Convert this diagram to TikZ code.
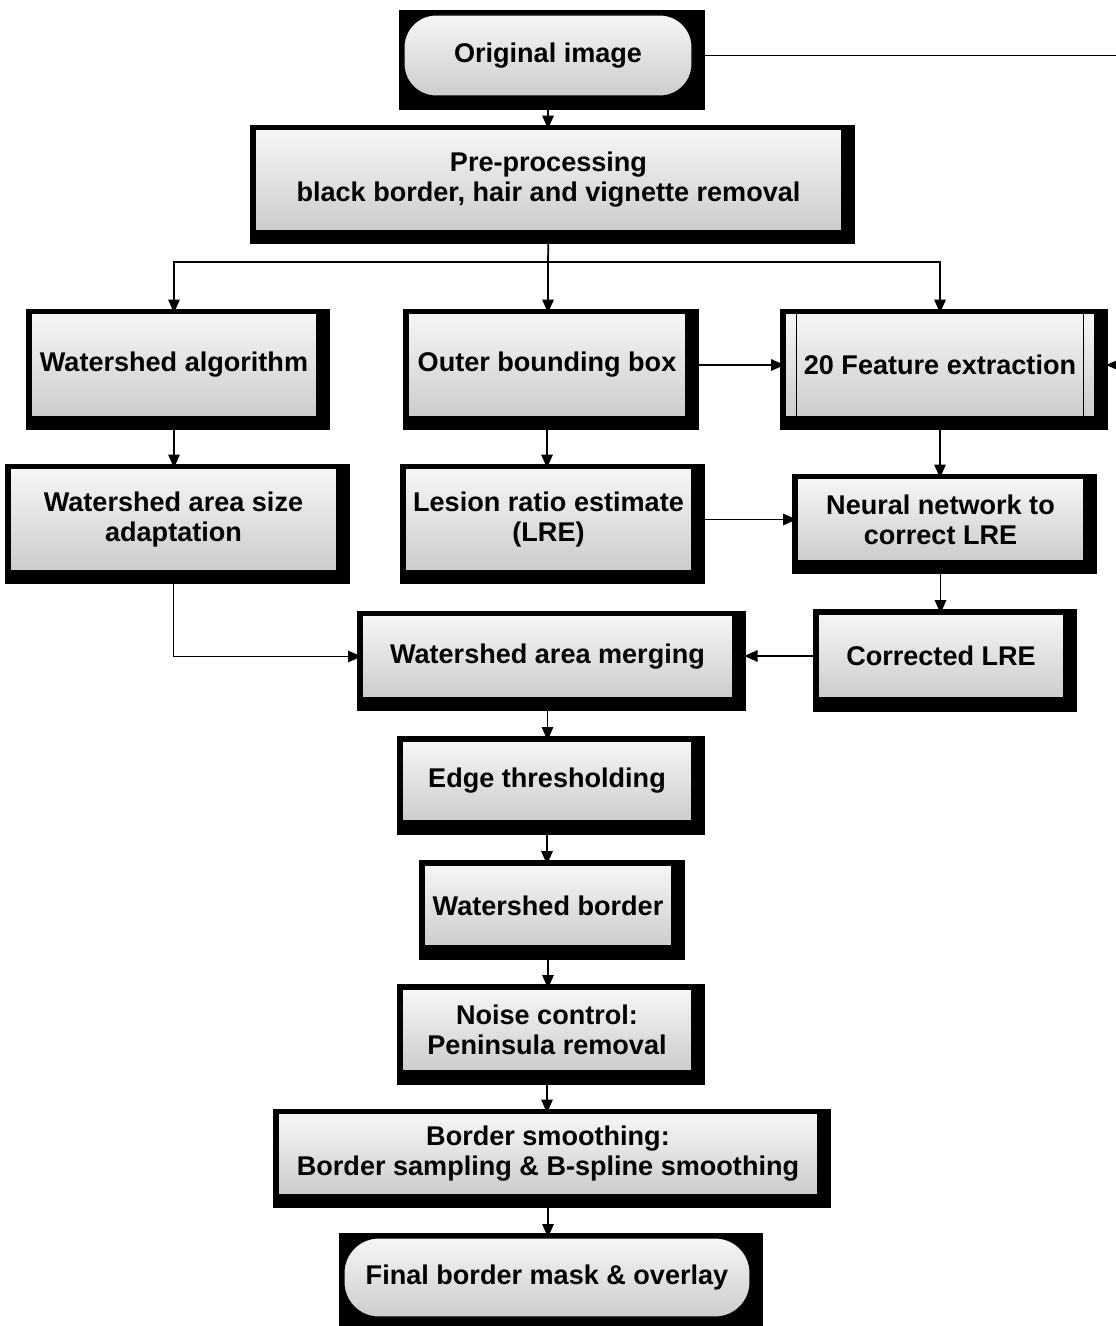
\documentclass[tikz,border=0pt]{standalone}
\usepackage{fontspec}
\setmainfont{Liberation Sans}
\usetikzlibrary{arrows.meta,backgrounds,calc}
\def\pxu{0.75pt}
\begin{document}
\begin{tikzpicture}[x=0.75pt,y=-0.75pt,
  gbox/.style={draw=black, line width=0.8pt, top color=gray!7, bottom color=gray!40,
    font=\bfseries\fontsize{20.3}{22.5}\selectfont, align=center, inner sep=0pt},
  arr/.style={-{Triangle[length=10pt,width=8.5pt]}, line width=1.3pt},
  ln/.style={line width=1.3pt}]
\useasboundingbox (0,0) rectangle (1115,1326);

% boxes
\node[gbox, minimum width=288*\pxu, minimum height=81*\pxu, rounded corners=24pt] (orig) at (548,55.5) {Original image};
\node[gbox, minimum width=587*\pxu, minimum height=101*\pxu] (pre) at (548.5,180) {Pre-processing\\black border, hair and vignette removal};
\node[gbox, minimum width=286*\pxu, minimum height=103*\pxu] (alg) at (174,365) {Watershed algorithm};
\node[gbox, minimum width=278*\pxu, minimum height=103*\pxu] (obb) at (547,365) {Outer bounding box};
\node[gbox, minimum width=310*\pxu, minimum height=103*\pxu] (feat) at (940,365) {20 Feature extraction};
\node[gbox, minimum width=327*\pxu, minimum height=102*\pxu] (wsa) at (173.5,519.5) {Watershed area size\\adaptation};
\node[gbox, minimum width=287*\pxu, minimum height=102*\pxu] (lre) at (548.5,519.5) {Lesion ratio estimate\\(LRE)};
\node[gbox, minimum width=287*\pxu, minimum height=82*\pxu] (nn) at (940.5,519.5) {Neural network to\\correct LRE};
\node[gbox, minimum width=246*\pxu, minimum height=84*\pxu] (clre) at (941,656) {Corrected LRE};
\node[gbox, minimum width=371*\pxu, minimum height=82*\pxu] (merge) at (547.5,656.5) {Watershed area merging};
\node[gbox, minimum width=290*\pxu, minimum height=80*\pxu] (edge) at (547,781) {Edge thresholding};
\node[gbox, minimum width=248*\pxu, minimum height=81*\pxu] (wsb) at (548,905.5) {Watershed border};
\node[gbox, minimum width=290*\pxu, minimum height=82*\pxu] (noise) at (547,1030) {Noise control:\\Peninsula removal};
\node[gbox, minimum width=540*\pxu, minimum height=81*\pxu] (smooth) at (548,1154) {Border smoothing:\\Border sampling \& B-spline smoothing};
\node[gbox, minimum width=406*\pxu, minimum height=79*\pxu, rounded corners=26pt] (final) at (547,1277.5) {Final border mask \& overlay};

% predefined-process side bars
\draw[line width=0.8pt] ([xshift=12*\pxu]feat.north west) -- ([xshift=12*\pxu]feat.south west);
\draw[line width=0.8pt] ([xshift=-12*\pxu]feat.north east) -- ([xshift=-12*\pxu]feat.south east);

% shadows
\begin{scope}[on background layer]
\foreach \n in {orig,pre,alg,obb,feat,wsa,lre,nn,clre,merge,edge,wsb,noise,smooth,final}
  \fill[black] ($(\n.north west)+(-4,-4)$) rectangle ($(\n.south east)+(12,13)$);
\end{scope}

% connectors
\coordinate (split) at (548,262);
\coordinate (r1) at (1122,55.5);
\coordinate (r2) at (1122,365);
\draw[arr] (orig.south) -- (orig.south |- pre.north);
\draw[ln] (pre.south) -- (split);
\draw[arr] (split) -| (alg.north);
\draw[arr] (split) -| (feat.north);
\draw[arr] (split) -- (split |- obb.north);
\draw[arr] (obb.east) -- (feat.west);
\draw[arr, shorten >=8pt] (orig.east) -- (r1) -- (r2) -- (feat.east);
\draw[arr] (alg.south) -- (alg.south |- wsa.north);
\draw[arr] (obb.south) -- (obb.south |- lre.north);
\draw[arr] (feat.south) -- (feat.south |- nn.north);
\draw[arr] (lre.east) -- (lre.east -| nn.west);
\draw[arr] (nn.south) -- (nn.south |- clre.north);
\draw[arr, shorten >=8pt] (clre.west) -- (clre.west -| merge.east);
\draw[arr] (wsa.south) |- (merge.west);
\draw[arr] (merge.south) -- (merge.south |- edge.north);
\draw[arr] (edge.south) -- (edge.south |- wsb.north);
\draw[arr] (wsb.south) -- (wsb.south |- noise.north);
\draw[arr] (noise.south) -- (noise.south |- smooth.north);
\draw[arr] (smooth.south) -- (smooth.south |- final.north);
\end{tikzpicture}
\end{document}
